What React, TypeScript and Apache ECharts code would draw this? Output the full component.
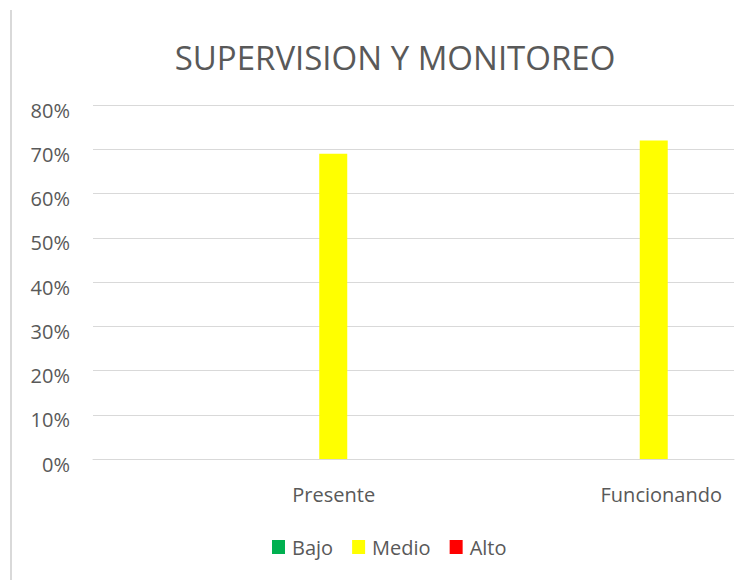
import React, { useEffect, useRef } from "react";
import * as echarts from "echarts";

const categories = ["Presente", "Funcionando"];
const bajo = [0, 0];
const medio = [0.69, 0.72];
const alto = [0, 0];
const yTicks = { min: 0, max: 0.8, interval: 0.1 };

const FONT = "'Open Sans', 'Noto Sans', sans-serif";
const TXT = "#595959";

export default function App() {
  const ref = useRef<HTMLDivElement>(null);
  useEffect(() => {
    if (!ref.current) return;
    const chart = echarts.init(ref.current, null, { renderer: "svg" });
    chart.setOption({
      animation: false,
      backgroundColor: "#ffffff",
      title: {
        text: "SUPERVISION Y MONITOREO",
        left: 390,
        textAlign: "center",
        top: 36,
        textStyle: { fontFamily: FONT, fontSize: 33, fontWeight: "normal", color: TXT },
      },
      graphic: [
        {
          type: "line",
          shape: { x1: 11, y1: 10, x2: 11, y2: 580 },
          style: { stroke: "#d9d9d9", lineWidth: 2 },
        },
      ],
      legend: {
        data: ["Bajo", "Medio", "Alto"],
        left: 272,
        top: 537,
        padding: 0,
        itemWidth: 13,
        itemHeight: 14,
        itemGap: 19,
        icon: "rect",
        textStyle: { fontFamily: FONT, fontSize: 20, color: TXT, padding: [4, 0, 0, 2] },
      },
      grid: { left: 93, right: 16, top: 105, bottom: 121, containLabel: false },
      xAxis: {
        type: "category",
        data: categories,
        axisTick: { show: false },
        axisLine: { lineStyle: { color: "#d9d9d9", width: 1 } },
        axisLabel: {
          margin: 25,
          fontFamily: FONT,
          fontSize: 20,
          color: TXT,
          formatter: (v: string, i: number) => `{a${i}|${v}}`,
          rich: {
            a0: { fontFamily: FONT, fontSize: 20, color: TXT, padding: [0, 0, 0, 161] },
            a1: { fontFamily: FONT, fontSize: 20, color: TXT, padding: [0, 0, 0, 175] },
          },
        },
      },
      yAxis: {
        type: "value",
        min: yTicks.min,
        max: yTicks.max,
        interval: yTicks.interval,
        axisLine: { show: false },
        axisTick: { show: false },
        splitLine: { lineStyle: { color: "#d9d9d9", width: 1 } },
        axisLabel: {
          margin: 23,
          fontFamily: FONT,
          fontSize: 20,
          color: TXT,
          formatter: (v: number) => `{p|${Math.round(v * 100)}%}`,
          rich: {
            p: { fontFamily: FONT, fontSize: 20, color: TXT, padding: [10, 0, 0, 0] },
          },
        },
      },
      series: [
        { name: "Bajo", type: "bar", data: bajo, barWidth: 28, barGap: "185.7%", itemStyle: { color: "#00b050" } },
        { name: "Alto", type: "bar", data: alto, barWidth: 28, barGap: "185.7%", itemStyle: { color: "#ff0000" } },
        { name: "Medio", type: "bar", data: medio, barWidth: 28, barGap: "185.7%", itemStyle: { color: "#ffff00" } },
      ],
    });
    return () => chart.dispose();
  }, []);
  return (
    <div
      ref={ref}
      style={{ position: "fixed", left: 0, top: 0, width: 750, height: 580, background: "#fff" }}
    />
  );
}
